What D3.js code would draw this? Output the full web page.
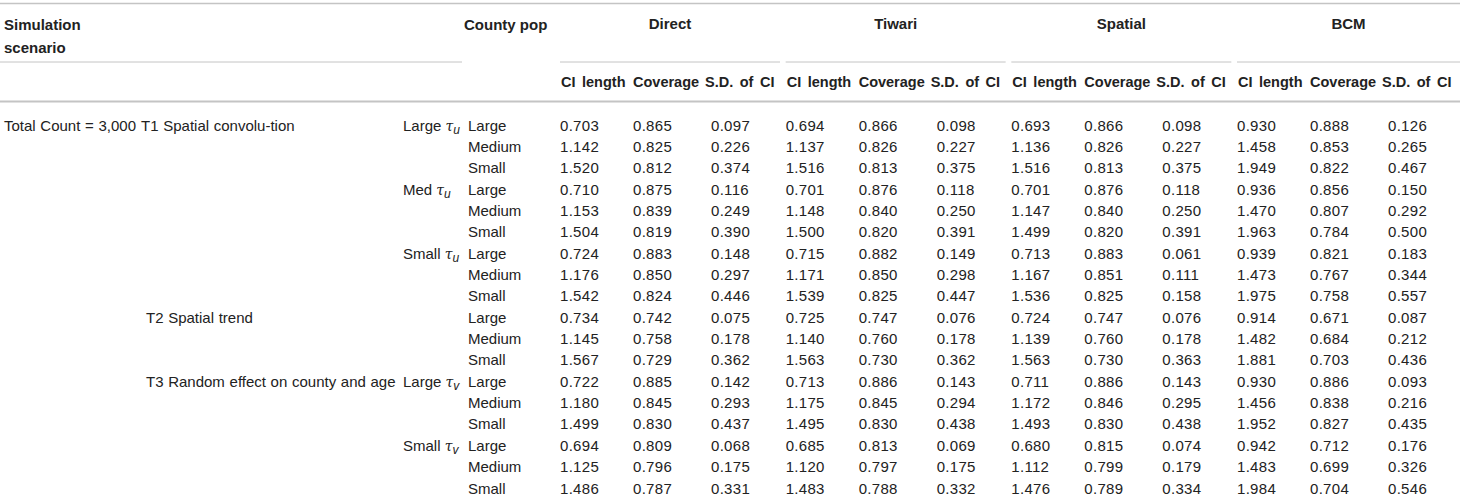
<!DOCTYPE html>
<html>
<head>
<meta charset="utf-8">
<script src="https://cdn.jsdelivr.net/npm/d3@7"></script>
<style>
  body { margin: 0; background: #fff; }
  svg text { font-family: "Liberation Sans", Arial, Helvetica, sans-serif; font-size: 15px; fill: #222; }
  .hdr { font-weight: bold; font-size: 15px; }
  .sub { font-size: 14.5px; word-spacing: 2.5px; }
  .num { letter-spacing: 0.3px; }
  .lbl { word-spacing: 0.5px; }
  .rule { stroke: #c4c4c4; }
</style>
</head>
<body>
<svg id="table" width="1460" height="497"></svg>
<script>
// Table values
const methods = ['Direct', 'Tiwari', 'Spatial', 'BCM'];
const measures = ['CI length', 'Coverage', 'S.D. of CI'];
const countyPop = ['Large', 'Medium', 'Small', 'Large', 'Medium', 'Small', 'Large', 'Medium', 'Small',
                   'Large', 'Medium', 'Small', 'Large', 'Medium', 'Small', 'Large', 'Medium', 'Small'];

// scenario labels: [row, text]
const totalLabel = [[0, 'Total Count = 3,000']];
const trendLabels = [[0, 'T1 Spatial convolu-tion'], [9, 'T2 Spatial trend'], [12, 'T3 Random effect on county and age']];
// tau labels: [row, prefix, subscript]
const tauLabels = [[0, 'Large', 'u'], [3, 'Med', 'u'], [6, 'Small', 'u'], [12, 'Large', 'v'], [15, 'Small', 'v']];

const directCI  = [0.703, 1.142, 1.520, 0.710, 1.153, 1.504, 0.724, 1.176, 1.542, 0.734, 1.145, 1.567, 0.722, 1.180, 1.499, 0.694, 1.125, 1.486];
const directCov = [0.865, 0.825, 0.812, 0.875, 0.839, 0.819, 0.883, 0.850, 0.824, 0.742, 0.758, 0.729, 0.885, 0.845, 0.830, 0.809, 0.796, 0.787];
const directSD  = [0.097, 0.226, 0.374, 0.116, 0.249, 0.390, 0.148, 0.297, 0.446, 0.075, 0.178, 0.362, 0.142, 0.293, 0.437, 0.068, 0.175, 0.331];

const tiwariCI  = [0.694, 1.137, 1.516, 0.701, 1.148, 1.500, 0.715, 1.171, 1.539, 0.725, 1.140, 1.563, 0.713, 1.175, 1.495, 0.685, 1.120, 1.483];
const tiwariCov = [0.866, 0.826, 0.813, 0.876, 0.840, 0.820, 0.882, 0.850, 0.825, 0.747, 0.760, 0.730, 0.886, 0.845, 0.830, 0.813, 0.797, 0.788];
const tiwariSD  = [0.098, 0.227, 0.375, 0.118, 0.250, 0.391, 0.149, 0.298, 0.447, 0.076, 0.178, 0.362, 0.143, 0.294, 0.438, 0.069, 0.175, 0.332];

const spatialCI  = [0.693, 1.136, 1.516, 0.701, 1.147, 1.499, 0.713, 1.167, 1.536, 0.724, 1.139, 1.563, 0.711, 1.172, 1.493, 0.680, 1.112, 1.476];
const spatialCov = [0.866, 0.826, 0.813, 0.876, 0.840, 0.820, 0.883, 0.851, 0.825, 0.747, 0.760, 0.730, 0.886, 0.846, 0.830, 0.815, 0.799, 0.789];
const spatialSD  = [0.098, 0.227, 0.375, 0.118, 0.250, 0.391, 0.061, 0.111, 0.158, 0.076, 0.178, 0.363, 0.143, 0.295, 0.438, 0.074, 0.179, 0.334];

const bcmCI  = [0.930, 1.458, 1.949, 0.936, 1.470, 1.963, 0.939, 1.473, 1.975, 0.914, 1.482, 1.881, 0.930, 1.456, 1.952, 0.942, 1.483, 1.984];
const bcmCov = [0.888, 0.853, 0.822, 0.856, 0.807, 0.784, 0.821, 0.767, 0.758, 0.671, 0.684, 0.703, 0.886, 0.838, 0.827, 0.712, 0.699, 0.704];
const bcmSD  = [0.126, 0.265, 0.467, 0.150, 0.292, 0.500, 0.183, 0.344, 0.557, 0.087, 0.212, 0.436, 0.093, 0.216, 0.435, 0.176, 0.326, 0.546];

const columns = [
    [directCI, directCov, directSD],
    [tiwariCI, tiwariCov, tiwariSD],
    [spatialCI, spatialCov, spatialSD],
    [bcmCI, bcmCov, bcmSD]
];

const W = 1460;
const svg = d3.select('#table');

// Layout scales
const rowY = d3.scalePoint().domain(d3.range(countyPop.length)).range([130.5, 493.5]);
const groupX = d3.scaleLinear().domain([0, 3]).range([560, 1237]);
const measureOffset = [0, 73, 151];     // data column offsets inside a group
const headerOffset = [1, 73, 145];      // header column offsets inside a group
const groupWidth = 220;

function hline(x1, x2, y, w) {
    svg.append('line').attr('class', 'rule')
        .attr('x1', x1).attr('x2', x2).attr('y1', y).attr('y2', y)
        .attr('stroke-width', w);
}

// Rules
hline(0, W, 3.5, 1.5);
hline(0, 462, 62, 1);
methods.forEach((m, i) => {
    const x0 = groupX(i);
    hline(x0, i === methods.length - 1 ? W : x0 + groupWidth, 62, 1);
});
hline(0, W, 101.5, 2);

// Header
svg.append('text').attr('class', 'hdr').attr('x', 4).attr('y', 30).text('Simulation');
svg.append('text').attr('class', 'hdr').attr('x', 4).attr('y', 52.5).text('scenario');
svg.append('text').attr('class', 'hdr').attr('x', 464).attr('y', 30).text('County pop');

svg.selectAll('.grp').data(methods).enter().append('text')
    .attr('class', 'hdr grp')
    .attr('text-anchor', 'middle')
    .attr('x', (d, i) => groupX(i) + (i === methods.length - 1 ? (W - groupX(i)) / 2 : groupWidth / 2))
    .attr('y', 29)
    .text(d => d);

methods.forEach((m, i) => {
    svg.selectAll('.sub' + i).data(measures).enter().append('text')
        .attr('class', 'hdr sub sub' + i)
        .attr('x', (d, j) => groupX(i) + headerOffset[j])
        .attr('y', 87)
        .text(d => d);
});

// Row labels
svg.selectAll('.total').data(totalLabel).enter().append('text')
    .attr('class', 'lbl total')
    .attr('x', 4).attr('y', d => rowY(d[0]))
    .text(d => d[1]);

const totalEnd = 4 + svg.select('.total').node().getComputedTextLength() + 5;
svg.selectAll('.trend').data(trendLabels).enter().append('text')
    .attr('class', 'lbl trend')
    .attr('x', d => d[0] === 0 ? totalEnd : 146)
    .attr('y', d => rowY(d[0]))
    .text(d => d[1]);

const tau = svg.selectAll('.tau').data(tauLabels).enter().append('text')
    .attr('class', 'tau')
    .attr('x', 403).attr('y', d => rowY(d[0]));
tau.append('tspan').text(d => d[1] + ' ');
tau.append('tspan').attr('font-style', 'italic').attr('font-family', '"DejaVu Serif", serif').attr('font-size', 14).text('τ');
tau.append('tspan').attr('font-style', 'italic').attr('font-size', 12).attr('dy', 3).text(d => d[2]);

svg.selectAll('.pop').data(countyPop).enter().append('text')
    .attr('class', 'pop')
    .attr('x', 468).attr('y', (d, i) => rowY(i))
    .text(d => d);

// Numeric cells
const fmt = d3.format('.3f');
columns.forEach((group, gi) => {
    group.forEach((series, mi) => {
        svg.selectAll(`.c${gi}${mi}`).data(series).enter().append('text')
            .attr('class', `num c${gi}${mi}`)
            .attr('x', groupX(gi) + measureOffset[mi])
            .attr('y', (d, i) => rowY(i))
            .text(d => fmt(d));
    });
});
</script>
</body>
</html>
